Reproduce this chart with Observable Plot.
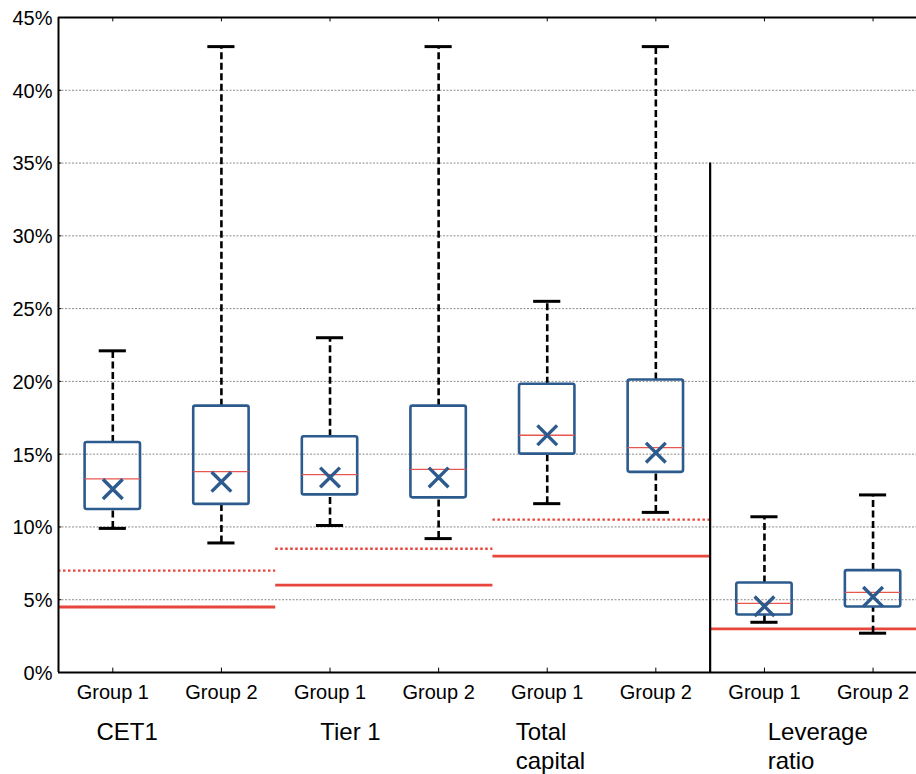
<!DOCTYPE html>
<html>
<head>
<meta charset="utf-8">
<script src="https://cdn.jsdelivr.net/npm/d3@7"></script>
<script src="https://cdn.jsdelivr.net/npm/@observablehq/plot@0.6"></script>
<style>
  body { margin: 0; background: #fff; }
  #chart svg { font-family: "Liberation Sans", Arial, sans-serif; }
</style>
</head>
<body>
<div id="chart"></div>
<script>
// Capital ratios by measure and bank group (percent of exposure)
const measures = ["CET1", "Tier 1", "Total\ncapital", "Leverage\nratio"];
const groups = ["Group 1", "Group 2"];

// Box statistics, ordered CET1 G1, CET1 G2, Tier 1 G1, Tier 1 G2, Total G1, Total G2, Leverage G1, Leverage G2
const whiskerHigh = [22.1, 43.0, 23.0, 43.0, 25.5, 43.0, 10.7, 12.2];
const q3          = [15.8, 18.3, 16.2, 18.3, 19.8, 20.1, 6.15, 7.0];
const median      = [13.3, 13.8, 13.6, 13.95, 16.3, 15.45, 4.75, 5.5];
const mean        = [12.6, 13.1, 13.4, 13.4, 16.3, 15.1, 4.55, 5.2];
const q1          = [11.2, 11.55, 12.2, 12.0, 15.0, 13.75, 3.95, 4.5];
const whiskerLow  = [9.9, 8.9, 10.1, 9.2, 11.6, 11.0, 3.45, 2.7];

// Regulatory minimum (solid) and minimum plus buffer (dotted) per measure
const minimum = [4.5, 6, 8, 3];
const buffer  = [7, 8.5, 10.5, null];

const yTicks = [0, 5, 10, 15, 20, 25, 30, 35, 40, 45];

const boxes = whiskerHigh.map((_, i) => ({
  pos: i + 1,
  group: groups[i % 2],
  lo: whiskerLow[i], q1: q1[i], med: median[i], q3: q3[i], hi: whiskerHigh[i], mean: mean[i]
}));
const reqs = measures.map((m, c) => ({
  c, label: m, min: minimum[c], buf: buffer[c], from: 2 * c + 0.5, to: 2 * c + 2.5
}));

const boxHalf = 0.255, capHalf = 0.125;
const labelNudge = [0, 0.06, -0.14, 0.18];
const blue = "#2d5b8e", red = "#e8453c";

const chart = Plot.plot({
  width: 916,
  height: 774,
  marginLeft: 58,
  marginRight: 0,
  marginTop: 17,
  marginBottom: 102,
  style: { background: "#fff", color: "#000", fontFamily: "Liberation Sans, Arial, sans-serif" },
  x: { domain: [0.5, 8.4], axis: null },
  y: { domain: [0, 45], axis: null },
  marks: [
    // dashed horizontal gridlines
    Plot.ruleY(yTicks, { stroke: "#6f6f6f", strokeWidth: 0.8, strokeDasharray: "2,1.5" }),
    // requirement lines
    Plot.ruleY(reqs, { y: "min", x1: "from", x2: "to", stroke: red, strokeWidth: 2.8 }),
    Plot.ruleY(reqs.filter(d => d.buf != null), { y: "buf", x1: "from", x2: "to", stroke: red, strokeWidth: 2.4, strokeDasharray: "2.5,2.5" }),
    // whiskers
    Plot.ruleX(boxes, { x: "pos", y1: "q3", y2: "hi", stroke: "#000", strokeWidth: 2.6, strokeDasharray: "7,3.5" }),
    Plot.ruleX(boxes, { x: "pos", y1: "lo", y2: "q1", stroke: "#000", strokeWidth: 2.6, strokeDasharray: "7,3.5" }),
    Plot.ruleY(boxes, { y: "hi", x1: d => d.pos - capHalf, x2: d => d.pos + capHalf, stroke: "#000", strokeWidth: 3 }),
    Plot.ruleY(boxes, { y: "lo", x1: d => d.pos - capHalf, x2: d => d.pos + capHalf, stroke: "#000", strokeWidth: 3 }),
    // boxes, medians and means
    Plot.rect(boxes, { x1: d => d.pos - boxHalf, x2: d => d.pos + boxHalf, y1: "q1", y2: "q3", fill: "none", stroke: blue, strokeWidth: 2.6, rx: 2 }),
    Plot.ruleY(boxes, { y: "med", x1: d => d.pos - boxHalf, x2: d => d.pos + boxHalf, stroke: "#e8574f", strokeWidth: 1.3 }),
    Plot.dot(boxes, { x: "pos", y: "mean", symbol: "times", r: 9, stroke: blue, strokeWidth: 3.4 }),
    // separator before the leverage ratio panel
    Plot.ruleX([6.5], { y1: 0, y2: 35, stroke: "#000", strokeWidth: 2.2 }),
    // frame
    Plot.ruleX([0.5], { stroke: "#000", strokeWidth: 2 }),
    Plot.ruleY([0, 45], { stroke: "#000", strokeWidth: 2 }),
    // small inward tick marks
    Plot.ruleX(boxes, { x: "pos", y1: 0, y2: 0.3, stroke: "#000", strokeWidth: 1 }),
    Plot.ruleX(boxes, { x: "pos", y1: 45, y2: 44.7, stroke: "#000", strokeWidth: 1 }),
    Plot.ruleY(yTicks, { x1: 0.5, x2: 0.53, stroke: "#000", strokeWidth: 1 }),
    // axis labels
    Plot.axisY({ ticks: yTicks, tickFormat: d => d + "%", tickSize: 0, tickPadding: 6, fontSize: 20, dy: 1 }),
    Plot.text(boxes, { x: "pos", text: "group", frameAnchor: "bottom", lineAnchor: "top", dy: 12, fontSize: 20, fill: "#000" }),
    Plot.text(reqs, {
      x: d => 2 * d.c + 0.85 + labelNudge[d.c], text: "label",
      frameAnchor: "bottom", lineAnchor: "top", textAnchor: "start",
      dy: 48, fontSize: 24, lineHeight: 1.17, fill: "#000"
    })
  ]
});

document.getElementById("chart").appendChild(chart);
</script>
</body>
</html>
